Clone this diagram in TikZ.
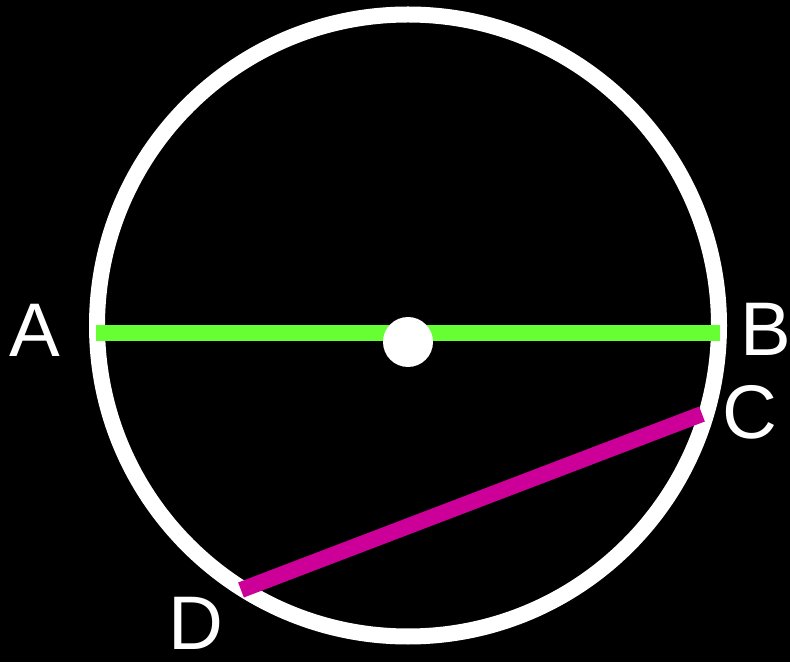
\documentclass[tikz,border=0pt]{standalone}
\usepackage{fontspec}
\setmainfont{Liberation Sans}
\begin{document}
\begin{tikzpicture}[x=1pt,y=1pt,
  lbl/.style={text=white,font=\fontsize{76}{76}\selectfont,inner sep=0pt,anchor=center},
  chord/.style={line width=16pt,line cap=butt}]
\definecolor{diagreen}{RGB}{102,255,51}
\definecolor{diamag}{RGB}{204,0,153}
\fill[black] (0,0) rectangle (790,662);
\useasboundingbox (0,0) rectangle (790,662);
\coordinate (O) at (408,336.5);
\draw[white,line width=16pt] (O) circle (311);
\coordinate (pA) at (96,328.5);
\coordinate (pB) at (720,328.5);
\coordinate (pC) at (702,248);
\coordinate (pD) at (241,72);
\draw[chord,diagreen] (pA) -- (pB);
\draw[chord,diamag] (pD) -- (pC);
\fill[white] (408,320) circle (25) coordinate (ctr);
\node[lbl] (A) at (35,332) {A};
\node[lbl] (B) at (766,333) {B};
\node[lbl] (C) at (750,250) {C};
\node[lbl] (D) at (196,39) {D};
\end{tikzpicture}
\end{document}
